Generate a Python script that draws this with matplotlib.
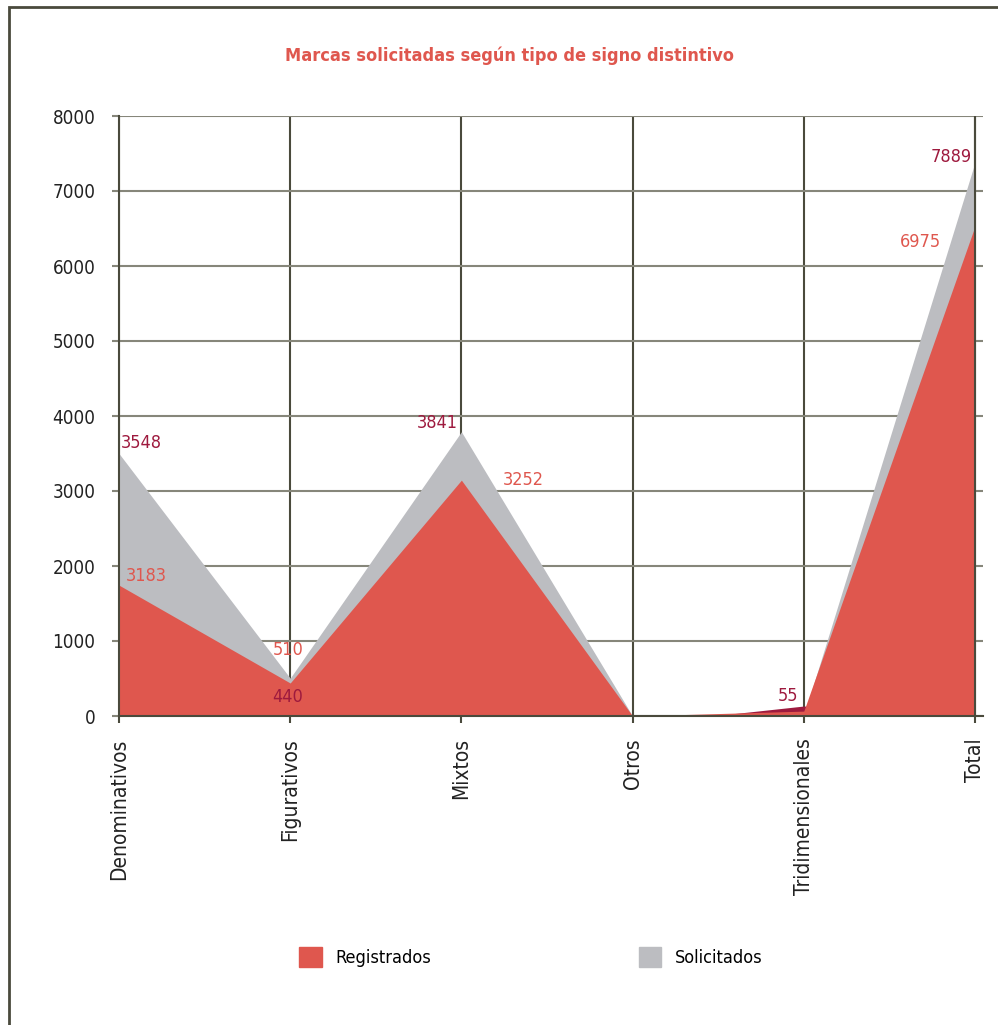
import numpy as np
import matplotlib
matplotlib.use("Agg")
from matplotlib import pyplot as plt
from matplotlib.patches import Patch, Rectangle


categories = ["Denominativos", "Figurativos", "Mixtos", "Otros", "Tridimensionales", "Total"]

# heights as drawn in the picture
solicitados = [3500, 505, 3790, 0, 0, 7380]
registrados = [1745, 440, 3145, 0, 65, 6530]
# dark wedge between Otros and Tridimensionales
extra = [0, 0, 0, -115, 133, 0]

# printed value labels
label_text = ["3548", "3183", "510", "440", "3841", "3252", "55", "7889", "6975"]
label_series = ["sol", "reg", "reg", "sol", "sol", "reg", "sol", "sol", "reg"]
label_x = [0.012, 0.04, 0.9, 0.894, 1.98, 2.243, 3.966, 4.982, 4.80]
label_y = [3640, 1867, 880, 253, 3907, 3147, 267, 7453, 6320]
label_ha = ["left", "left", "left", "left", "right", "left", "right", "right", "right"]

RED = "#df574e"
GRAY = "#bcbdc1"
DARK = "#9e1a3e"
LINE = "#4a4a3c"
GRID = "#86867a"

plt.rcParams["font.family"] = ["DejaVu Sans"]
plt.rcParams["font.stretch"] = "condensed"


def main():
    fig = plt.figure(figsize=(9.98, 10.25), dpi=100)
    ax = fig.add_axes([119 / 998, 1 - 716 / 1025, (983 - 119) / 998, 600 / 1025])

    x = np.arange(len(categories))
    ext = np.array(extra)
    ax.fill_between(x, 0, solicitados, color=GRAY, lw=0, zorder=2)
    ax.fill_between(x, 0, ext, where=ext > 0, interpolate=True, color=DARK, lw=0, zorder=2)
    ax.fill_between(x, 0, registrados, color=RED, lw=0, zorder=2)

    ax.set_xlim(0, 5.047)
    ax.set_ylim(0, 8000)
    ax.set_yticks(range(0, 8001, 1000))
    ax.set_xticks(x)
    ax.set_xticklabels(categories, rotation=90, fontsize=15, color="#222222")
    ax.tick_params(axis="y", length=5, width=1.5, color=GRID, pad=12, labelsize=13.5, labelcolor="#222222")
    ax.tick_params(axis="x", length=5, width=1.5, color=LINE, pad=11)

    ax.set_axisbelow(True)
    ax.yaxis.grid(True, color=GRID, lw=1.5)
    ax.xaxis.grid(True, color=LINE, lw=1.5)
    for s in ["top", "right"]:
        ax.spines[s].set_visible(False)
    ax.spines["left"].set_color(LINE)
    ax.spines["left"].set_linewidth(1.5)
    ax.spines["left"].set_zorder(3)
    ax.spines["bottom"].set_color(LINE)
    ax.spines["bottom"].set_linewidth(1.5)
    ax.axvline(5, color=LINE, lw=1.5, zorder=3)

    for t, s, lx, ly, ha in zip(label_text, label_series, label_x, label_y, label_ha):
        ax.text(lx, ly, t, ha=ha, va="center", fontsize=13,
                color=DARK if s == "sol" else RED, zorder=4)

    fig.text(510 / 998, 1 - 56 / 1025, "Marcas solicitadas según tipo de signo distintivo",
             ha="center", va="center", fontsize=13, fontweight="bold", color=RED)

    # frame around the chart (left and top edges visible)
    fig.patches.append(Rectangle((9 / 998, -0.1), 1.2, 1 - 7 / 1025 + 0.1, transform=fig.transFigure,
                                 fill=False, ec=LINE, lw=2))

    handles = [Patch(color=RED), Patch(color=GRAY)]
    fig.legend(handles, ["Registrados", "Solicitados"], loc="center", ncol=2,
               bbox_to_anchor=(531 / 998, 1 - 957 / 1025), frameon=False, fontsize=13,
               handlelength=1.25, handleheight=1.35, handletextpad=0.75, columnspacing=11.5)

    fig.savefig("out.png", dpi=100)


if __name__ == "__main__":
    main()
